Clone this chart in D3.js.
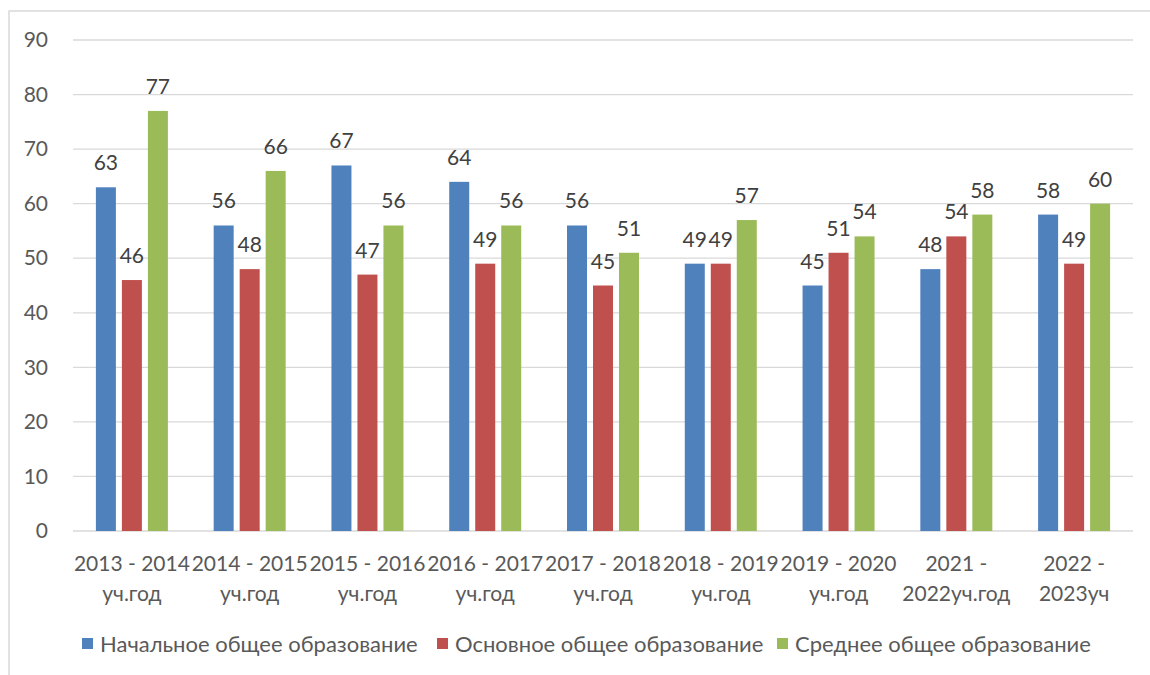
<!DOCTYPE html>
<html><head><meta charset="utf-8">
<script src="https://cdn.jsdelivr.net/npm/d3@7"></script>
<style>body{margin:0;background:#fff;}svg{display:block;font-family:Lato,"Open Sans",sans-serif;}</style>
</head><body>
<svg id="c" width="1150" height="675"></svg>
<script>
const categories = [["2013 - 2014","уч.год"],["2014 - 2015","уч.год"],["2015 - 2016","уч.год"],["2016 - 2017","уч.год"],["2017 - 2018","уч.год"],["2018 - 2019","уч.год"],["2019 - 2020","уч.год"],["2021 -","2022уч.год"],["2022 -","2023уч"]];
const seriesNames = ["Начальное общее образование","Основное общее образование","Среднее общее образование"];
const primary = [63,56,67,64,56,49,45,48,58];
const basic = [46,48,47,49,45,49,51,54,49];
const secondary = [77,66,56,56,51,57,54,58,60];
const yTicks = [0,10,20,30,40,50,60,70,80,90];
const colors = ["#4f81bd","#c0504d","#9bbb59"];
const series = [primary, basic, secondary];

const svg = d3.select("#c");
const FS = 21;
// frame
svg.append("rect").attr("x",9).attr("y",11).attr("width",1200).attr("height",700)
  .attr("fill","none").attr("stroke","#d9d9d9").attr("stroke-width",1.5);

const x0 = d3.scaleBand().domain(d3.range(categories.length)).range([73,1133]);
const y = d3.scaleLinear().domain([0,90]).range([531,40]);
const barW = 20, gap = 6;

// gridlines
svg.append("g").selectAll("line").data(yTicks).join("line")
  .attr("x1",73).attr("x2",1133).attr("y1",d=>y(d)).attr("y2",d=>y(d))
  .attr("stroke","#d9d9d9").attr("stroke-width",1.3);

const yAxis = d3.axisLeft(y).tickValues(yTicks).tickSize(0).tickPadding(0);
const gy = svg.append("g").attr("transform","translate(48,0)").call(yAxis);
gy.select(".domain").remove();
gy.selectAll("text").attr("font-size",FS).attr("fill","#595959").attr("font-family","Lato,'Open Sans',sans-serif");

series.forEach((vals,si)=>{
  const off = (si-1)*(barW+gap) - barW/2;
  svg.append("g").selectAll("rect").data(vals).join("rect")
    .attr("x",(d,i)=>x0(i)+x0.bandwidth()/2+off)
    .attr("y",d=>y(d)).attr("width",barW).attr("height",d=>y(0)-y(d))
    .attr("fill",colors[si]);
  svg.append("g").selectAll("text").data(vals).join("text")
    .attr("x",(d,i)=>x0(i)+x0.bandwidth()/2+off+barW/2)
    .attr("y",d=>y(d)-17).attr("text-anchor","middle")
    .attr("font-size",FS).attr("fill","#404040").text(d=>d);
});

// x labels
const xl = svg.append("g");
categories.forEach((c,i)=>{
  const cx = x0(i)+x0.bandwidth()/2;
  const t = xl.append("text").attr("x",cx).attr("text-anchor","middle")
    .attr("font-size",FS).attr("fill","#595959");
  c.forEach((line,li)=>t.append("tspan").attr("x",cx).attr("y",571+li*30).text(line));
});

// legend
const legX = [82,437,777];
const lg = svg.append("g");
seriesNames.forEach((n,i)=>{
  lg.append("rect").attr("x",legX[i]).attr("y",638).attr("width",11).attr("height",11).attr("fill",colors[i]);
  lg.append("text").attr("x",legX[i]+18).attr("y",652).attr("font-size",22).attr("fill","#595959").text(n);
});
</script>
</body></html>
